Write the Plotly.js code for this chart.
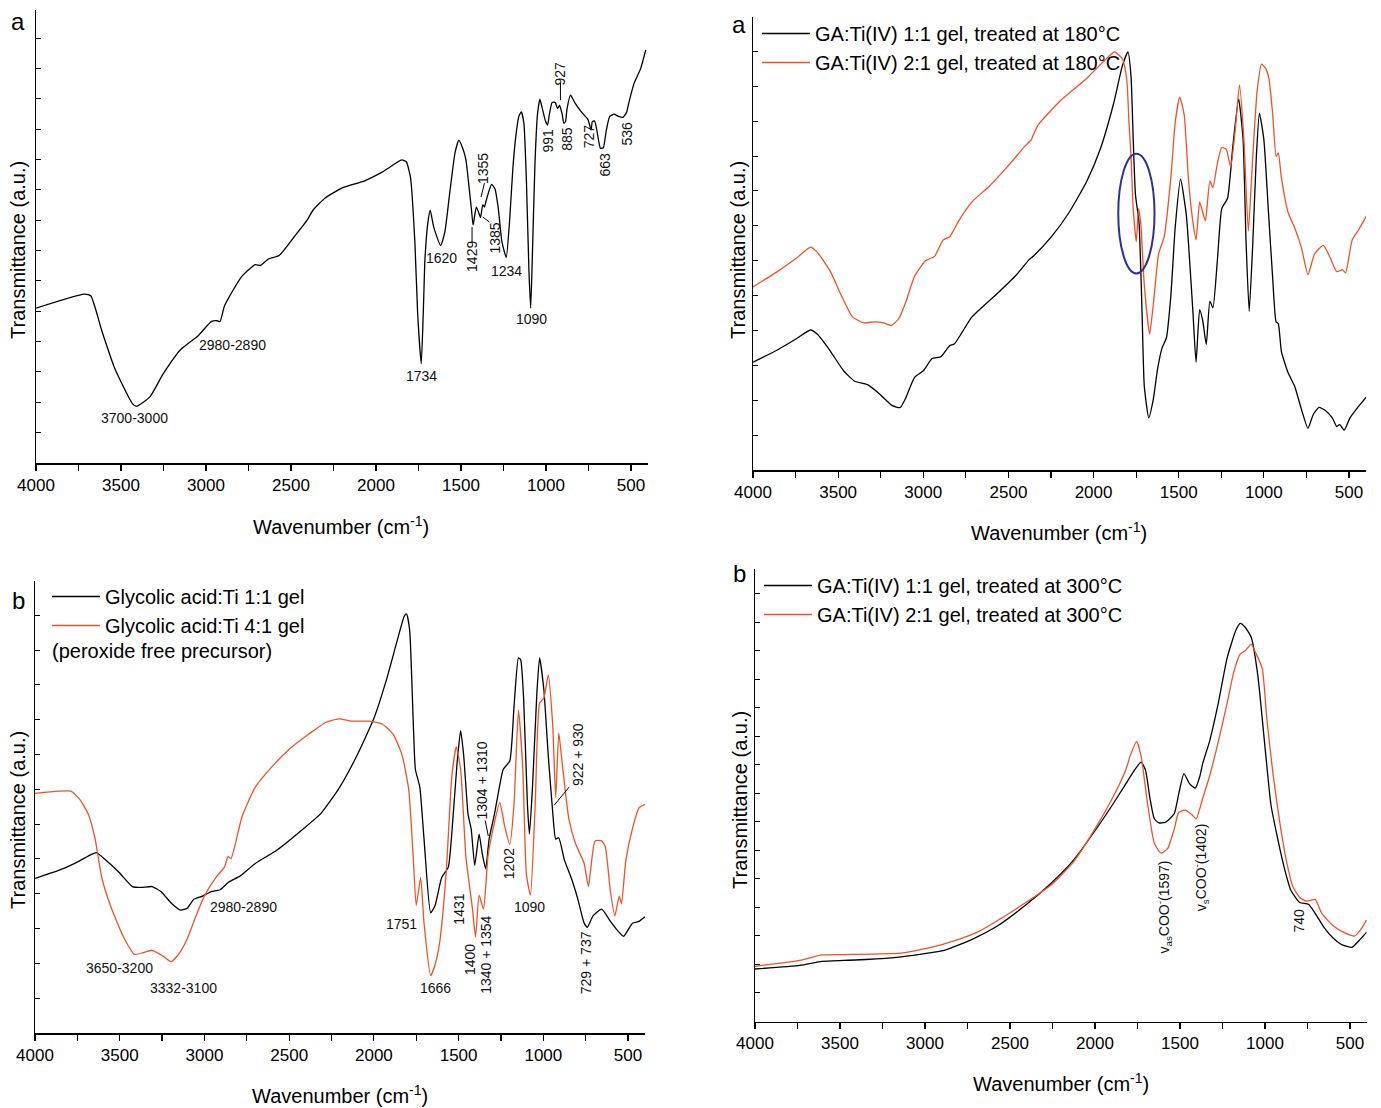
<!DOCTYPE html>
<html><head><meta charset="utf-8">
<script src="https://cdn.plot.ly/plotly-3.0.1.min.js"></script>
<style>body{margin:0;background:#fff}#chart{width:1381px;height:1108px}</style>
</head><body><div id="chart"></div>
<script>
// ---------- DATA ----------
// Panel a (top-left)
const p1_wn = [4000,3717,3678,3613,3536,3433,3410,3330,3253,3150,3046,2969,2935,2918,2892,2866,2789,2711,2680,2634,2570,2480,2402,2371,2299,2196,2067,1964,1848,1822,1797,1771,1755,1734,1722,1712,1695,1681,1660,1620,1595,1565,1535,1513,1490,1471,1451,1438,1429,1420,1410,1398,1385,1372,1362,1355,1340,1320,1300,1280,1260,1234,1215,1195,1178,1160,1145,1130,1115,1100,1090,1080,1065,1050,1036,1020,1003,991,980,964,946,933,927,920,905,895,885,877,856,830,792,753,735,727,714,701,680,663,645,625,600,573,547,536,525,516,482,444,413];
const p1_t  = [34.2,37.3,36.9,29.2,20.8,13.1,12.5,14.6,19.6,25,28.1,31.2,31.4,31.2,34.6,36.5,41.2,43.8,43.6,45,45.8,50,53.8,55.8,58.5,60.8,62.3,64.2,66.9,66.5,63,48.5,33,21.9,33,45,53,55.8,52,48,51,60,68.5,71.2,69.5,66.9,60.3,55.8,52.5,54.5,56.5,55.5,54.2,57,56.5,57.5,59.5,61.5,60.5,56,49,45.4,53,65,72,76.5,77.5,75,62,42,34.2,46,66,77,80.3,78,75.5,74.6,77,79.6,79.6,78.3,78.5,79,77,75,75.4,78,81.2,79.5,77.5,75.8,73.5,75.4,75.5,73.5,69.5,69.6,73.5,76.5,77,76.5,76.3,76.8,77.5,79,83.8,87,91.2];
const p1_labels = ['3700-3000','2980-2890','1734','1620','1429','1355','1385','1234','1090','991','927','885','727','663','536'];

// Panel a (top-right), 180 °C
const p2_names = ['GA:Ti(IV) 1:1 gel, treated at 180°C','GA:Ti(IV) 2:1 gel, treated at 180°C'];
const p2k_wn = [4000,3857,3753,3662,3623,3545,3468,3403,3325,3260,3182,3135,3104,3052,3000,2948,2896,2844,2818,2714,2559,2455,2377,2351,2247,2143,2039,1961,1883,1831,1798,1780,1767,1754,1733,1715,1702,1676,1650,1624,1598,1572,1546,1520,1489,1455,1429,1416,1398,1377,1359,1338,1317,1299,1273,1247,1213,1182,1148,1122,1104,1086,1065,1044,1026,1000,974,948,928,915,897,858,819,780,741,709,676,637,598,572,554,528,494,455,395];
const p2k_t  = [23.8,26.5,28.8,30.9,30,26.2,21.9,19.6,18.8,16.9,14.2,13.8,15.8,20.4,21.9,24.6,25,27.5,27.8,33.8,39.2,43,46.5,47.3,51.5,56.9,63.8,70.8,80.8,89.2,92.3,86.9,73,60.8,54.6,34.6,18.5,11.5,15.4,22.3,26.9,29.2,38.5,53.8,64.2,56.2,42.3,34.6,23.8,35.4,33,27.7,37.3,35.8,46.2,57.7,60,71.5,81.9,73,50,35,50,69.2,78.8,73,57.7,42.3,32.7,32.3,26.2,21.5,18.5,13.5,9.2,12.3,13.8,13.1,11.5,9.6,10,8.8,11.5,13.5,16.2];
const p2r_wn = [4000,3857,3740,3662,3623,3545,3481,3416,3351,3286,3234,3187,3143,3104,3052,2987,2935,2883,2844,2792,2714,2611,2507,2403,2364,2356,2325,2195,2039,1935,1878,1831,1805,1792,1780,1767,1749,1736,1723,1702,1671,1650,1618,1585,1546,1520,1494,1468,1442,1416,1398,1377,1359,1343,1317,1299,1273,1247,1221,1195,1169,1143,1117,1091,1065,1039,1013,987,969,948,928,915,897,858,819,780,741,702,650,611,572,538,520,481,442,395];
const p2r_t  = [40.4,43.8,46.9,49.2,48.1,43.8,38.5,33.8,32.5,32.7,32.5,31.9,33.5,36.9,42.7,46.2,47.1,50.8,51.5,55,59.2,62.7,66.9,71.5,73,73.8,76.2,81.5,86.5,90.4,92.3,90.8,86.2,76.9,69.2,57.7,50.4,57.7,54.6,40.8,30,36.2,47.7,51.5,64.6,76.9,82.3,78.5,63.8,54.6,50.8,59.2,56.9,55,63.8,62.3,67.7,71.2,70.8,66.9,74.6,85,73,52.7,69.2,83.8,89.6,88.5,86.2,78.5,69.2,70,64.6,56.9,53.5,49.2,43.1,47.7,49.6,46.9,43.8,44.2,43.5,50.8,53.1,56.2];

// Panel b (bottom-left)
const p3_names = ['Glycolic acid:Ti 1:1 gel','Glycolic acid:Ti 4:1 gel'];
const p3_note = '(peroxide free precursor)';
const p3k_wn = [4000,3865,3762,3684,3638,3581,3503,3425,3373,3309,3257,3192,3140,3102,3063,3011,2959,2907,2856,2791,2700,2571,2416,2312,2208,2105,2001,1924,1859,1820,1807,1789,1768,1755,1729,1704,1665,1639,1600,1561,1535,1509,1488,1470,1444,1426,1405,1379,1361,1340,1320,1289,1263,1237,1198,1173,1147,1134,1116,1094,1082,1064,1038,1022,997,971,945,927,909,875,836,797,759,740,707,656,604,565,526,474,435,401];
const p3k_t  = [34.2,35.9,37.6,39.2,39.9,38.2,35.5,32.4,32.2,32.4,31.3,28.6,27.2,27.6,29.6,30.3,31.3,31.7,33.4,34.7,37.5,40.5,45.2,48.6,54,61,69.5,78.4,87.3,92.3,92.7,89.2,69.1,58.3,54.4,42.9,26.6,28.2,34.4,36.7,46.7,59.8,66.9,61.4,48.3,45.2,37.1,44,39.8,36.3,42.9,48.3,53.7,58.3,60.2,72.2,83,82.6,73.7,50.6,44,54.4,75.3,83,76,61.4,49,42.9,43.2,38.2,34.4,29.7,24.3,23.4,25.9,27.4,24.7,22.8,21.4,24.3,24.7,25.7];
const p3r_wn = [4000,3865,3788,3736,3684,3645,3606,3555,3477,3412,3361,3309,3244,3197,3153,3102,3050,2998,2933,2882,2861,2843,2778,2700,2597,2493,2390,2359,2286,2208,2131,2027,1949,1885,1833,1794,1768,1750,1724,1704,1665,1639,1613,1574,1540,1514,1488,1457,1418,1400,1379,1353,1327,1301,1257,1229,1198,1173,1147,1121,1100,1076,1048,1022,997,971,945,927,909,889,850,812,759,734,695,656,635,604,578,552,539,513,474,435,401];
const p3r_t  = [53,53.5,53.5,51.7,48.3,42.9,34.4,28.2,21.2,17.4,17.8,18.3,17,15.8,17.4,20.8,25.9,30.5,34.4,36.7,39,38.6,47.9,54.4,59.1,63,66,66.8,68.7,69.5,69,69,68.3,66,61.4,53.7,39,28.2,34.4,24.3,12.7,15.1,19.7,35.1,56.8,63.3,58.3,39,27.4,21.2,30.5,27.4,39,44.4,51,45.9,41.7,50.6,71.4,58.3,35.1,30.5,50.6,73,74.1,79.2,68.3,52.1,66.4,59.8,47.5,42.1,37.5,32.4,42.5,42.5,41.3,31.3,25.9,30.3,28.6,38.2,45.2,49.8,50.6];
const p3_labels = ['3650-3200','3332-3100','2980-2890','1751','1666','1431','1400','1340 + 1354','1304 + 1310','1202','1090','922 + 930','729 + 737'];

// Panel b (bottom-right), 300 °C
const p4_names = ['GA:Ti(IV) 1:1 gel, treated at 300°C','GA:Ti(IV) 2:1 gel, treated at 300°C'];
const p4k_wn = [4000,3736,3606,3477,3347,3140,2985,2881,2726,2570,2415,2260,2130,2001,1897,1819,1767,1729,1703,1677,1651,1625,1586,1534,1508,1477,1443,1410,1384,1366,1327,1275,1223,1171,1146,1120,1081,1042,1003,965,926,887,848,796,744,705,653,601,549,488,449,403];
const p4k_t  = [11.6,12.4,13.3,13.5,13.7,14.3,15.1,15.8,18.1,21.2,25.5,30.5,35.5,42.1,47.9,52.5,55.6,57.3,55.6,49.4,44.8,43.9,44,45.9,50.2,54.8,52.5,51.6,54.1,57.1,61.8,70.3,80.3,86.5,88,87.3,84.9,76.4,61.8,47.9,40.5,34,29,26.3,25.9,23.9,20.8,18.5,17,16.4,17.8,19.7];
const p4r_wn = [4000,3736,3606,3477,3140,2985,2829,2674,2518,2363,2260,2130,2001,1897,1819,1793,1755,1729,1690,1651,1612,1573,1534,1508,1469,1430,1405,1366,1327,1275,1223,1184,1146,1115,1081,1055,1016,990,951,913,874,835,796,757,705,666,601,536,471,433,403];
const p4r_t  = [12.2,13.5,14.7,14.8,15.1,16.2,17.8,20.1,23.6,27.4,30.1,35.1,42.5,49.4,55.6,58.7,61.9,58.7,47.9,39.4,37.2,38.2,42.5,46.2,46.7,45.7,44.8,49.4,54.1,61.8,70.3,77.2,81.2,82,83.4,81.5,78,67.2,54.1,44,35.5,29.7,27.4,26.6,27,23.9,21.2,19.7,18.9,20.5,22.4];
const p4_labels = ['v<sub>as</sub>COO<sup>-</sup>(1597)','v<sub>s</sub>COO<sup>-</sup>(1402)','740'];

const panel_letters = ['a','a','b','b'];
const xTitle = 'Wavenumber (cm<sup>-1</sup>)';
const yTitle = 'Transmittance (a.u.)';

// ---------- LAYOUT ----------
const W = 1381, H = 1108;
const FONT = 'Liberation Sans, Arial, Helvetica, sans-serif';
const BLACK = '#000000', RED = '#f0502a';
const fx = p => p / W;
const fy = p => 1 - p / H;

function xax(l, r, anchor) {
  return {
    domain: [fx(l), fx(r)], anchor: anchor, range: [4000, 400],
    showline: true, linecolor: '#000', linewidth: 1.5, mirror: false,
    ticks: 'outside', ticklen: 6, tickwidth: 1.2, tickcolor: '#000',
    dtick: 500, tick0: 0, tickfont: {family: FONT, size: 17, color: '#000'},
    minor: {dtick: 250, ticks: 'outside', ticklen: 6, tickwidth: 1.2, tickcolor: '#000', showgrid: false},
    showgrid: false, zeroline: false, fixedrange: true
  };
}
function yax(top, bot, anchor, dt) {
  return {
    domain: [fy(bot), fy(top)], anchor: anchor, range: [0, 100],
    showline: true, linecolor: '#000', linewidth: 1.5,
    ticks: 'inside', ticklen: 5, tickwidth: 1, tickcolor: '#000',
    dtick: dt, tick0: 0, showticklabels: false,
    showgrid: false, zeroline: false, fixedrange: true
  };
}

const lineStyle = c => ({color: c, width: 1.3, shape: 'spline', smoothing: 0.5});

const traces = [
  {x: p1_wn, y: p1_t, xaxis: 'x', yaxis: 'y', mode: 'lines', line: lineStyle(BLACK), showlegend: false},
  {x: p2k_wn, y: p2k_t, xaxis: 'x2', yaxis: 'y2', mode: 'lines', line: lineStyle(BLACK), name: p2_names[0], legend: 'legend'},
  {x: p2r_wn, y: p2r_t, xaxis: 'x2', yaxis: 'y2', mode: 'lines', line: lineStyle(RED), name: p2_names[1], legend: 'legend'},
  {x: p3k_wn, y: p3k_t, xaxis: 'x3', yaxis: 'y3', mode: 'lines', line: lineStyle(BLACK), name: p3_names[0], legend: 'legend2'},
  {x: p3r_wn, y: p3r_t, xaxis: 'x3', yaxis: 'y3', mode: 'lines', line: lineStyle(RED), name: p3_names[1], legend: 'legend2'},
  {x: p4k_wn, y: p4k_t, xaxis: 'x4', yaxis: 'y4', mode: 'lines', line: lineStyle(BLACK), name: p4_names[0], legend: 'legend3'},
  {x: p4r_wn, y: p4r_t, xaxis: 'x4', yaxis: 'y4', mode: 'lines', line: lineStyle(RED), name: p4_names[1], legend: 'legend3'}
];

const annotations = [];
function lab(ax, txt, x, y, ang) {
  annotations.push({xref: 'x' + ax, yref: 'y' + ax, x: x, y: y, text: txt, showarrow: false,
    textangle: ang || 0, font: {family: FONT, size: 14, color: '#111'}});
}
function ptxt(txt, px, py, size, ang, xanchor) {
  annotations.push({xref: 'paper', yref: 'paper', x: fx(px), y: fy(py), text: txt, showarrow: false,
    textangle: ang || 0, xanchor: xanchor || 'center', yanchor: 'middle',
    font: {family: FONT, size: size, color: '#000'}});
}
// panel 1 peak labels
const A1 = '';
lab(A1, p1_labels[0], 3418, 9.9);
lab(A1, p1_labels[1], 2847, 26);
lab(A1, p1_labels[2], 1735, 19.2);
lab(A1, p1_labels[3], 1612, 45.3);
lab(A1, p1_labels[4], 1435, 45.5, -90);
lab(A1, p1_labels[5], 1371, 65.1, -90);
lab(A1, p1_labels[6], 1302, 49.7, -90);
lab(A1, p1_labels[7], 1235, 42.4);
lab(A1, p1_labels[8], 1088, 31.8);
lab(A1, p1_labels[9], 991, 71.1, -90);
lab(A1, p1_labels[10], 920, 85.9, -90);
lab(A1, p1_labels[11], 878, 71.5, -90);
lab(A1, p1_labels[12], 745, 72.2, -90);
lab(A1, p1_labels[13], 655, 65.8, -90);
lab(A1, p1_labels[14], 522, 72.8, -90);
// panel 3 labels
lab('3', p3_labels[0], 3499, 14.4);
lab('3', p3_labels[1], 3122, 10);
lab('3', p3_labels[2], 2769, 27.9);
lab('3', p3_labels[3], 1838, 24.1);
lab('3', p3_labels[4], 1637, 10);
lab('3', p3_labels[5], 1498, 27.5, -90);
lab('3', p3_labels[6], 1437, 16.2, -90);
lab('3', p3_labels[7], 1338, 17.3, -90);
lab('3', p3_labels[8], 1363, 55.8, -90);
lab('3', p3_labels[9], 1201, 37.4, -90);
lab('3', p3_labels[10], 1079, 27.9);
lab('3', p3_labels[11], 796, 61.7, -90);
lab('3', p3_labels[12], 744, 15.6, -90);
// panel 4 labels
lab('4', p4_labels[0], 1591, 25.3, -90);
lab('4', p4_labels[1], 1379, 34, -90);
lab('4', p4_labels[2], 797, 22.2, -90);

// panel letters
ptxt(panel_letters[0], 18, 22, 24);
ptxt(panel_letters[1], 739, 25, 24);
ptxt(panel_letters[2], 18, 600, 24);
ptxt(panel_letters[3], 739, 573, 24);
// axis titles
ptxt(xTitle, 341, 525, 20);
ptxt(xTitle, 1059, 532, 20);
ptxt(xTitle, 340, 1094, 20);
ptxt(xTitle, 1061, 1082, 20);
ptxt(yTitle, 18, 250, 20, -90);
ptxt(yTitle, 738, 250, 20, -90);
ptxt(yTitle, 18, 820, 20, -90);
ptxt(yTitle, 740, 800, 20, -90);
// legend note in panel b
ptxt(p3_note, 50, 651, 20, 0, 'left');

const lead = (ax, x0, y0, x1, y1) => ({type: 'line', xref: 'x' + ax, yref: 'y' + ax, x0: x0, y0: y0, x1: x1, y1: y1, line: {color: '#000', width: 1}});
const shapes = [
  lead('', 1435, 52.1, 1435, 48.6),
  lead('', 1362, 61.8, 1382, 58.7),
  lead('', 1372, 54.3, 1333, 53.2),
  lead('', 915, 83.9, 915, 80.1),
  lead('3', 1343, 47, 1325, 43.6),
  lead('3', 936, 50.4, 848, 54.4),
  {type: 'circle', xref: 'x2', yref: 'y2', x0: 1855, x1: 1642, y0: 43.4, y1: 69.8, line: {color: '#2e3192', width: 2}}
];

const legStyle = (px, py) => ({x: fx(px), y: fy(py), xanchor: 'left', yanchor: 'top', xref: 'paper', yref: 'paper',
  bgcolor: 'rgba(0,0,0,0)', borderwidth: 0, font: {family: FONT, size: 20, color: '#000'},
  tracegroupgap: 0, itemwidth: 48, traceorder: 'normal'});

const layout = {
  width: W, height: H, margin: {l: 0, r: 0, t: 0, b: 0},
  paper_bgcolor: '#fff', plot_bgcolor: '#fff',
  font: {family: FONT, color: '#000'},
  xaxis: xax(36, 648, 'y'),   yaxis: yax(10, 463, 'x', 6.7),
  xaxis2: xax(753, 1366, 'y2'), yaxis2: yax(17, 470, 'x2', 7.7),
  xaxis3: xax(35, 645, 'y3'), yaxis3: yax(581, 1033, 'x3', 7.7),
  xaxis4: xax(755, 1367, 'y4'), yaxis4: yax(569, 1021.5, 'x4', 6.3),
  legend: legStyle(757, 14),
  legend2: legStyle(47, 577),
  legend3: legStyle(759, 566),
  annotations: annotations, shapes: shapes
};

Plotly.newPlot('chart', traces, layout, {staticPlot: true, displayModeBar: false});
</script></body></html>
